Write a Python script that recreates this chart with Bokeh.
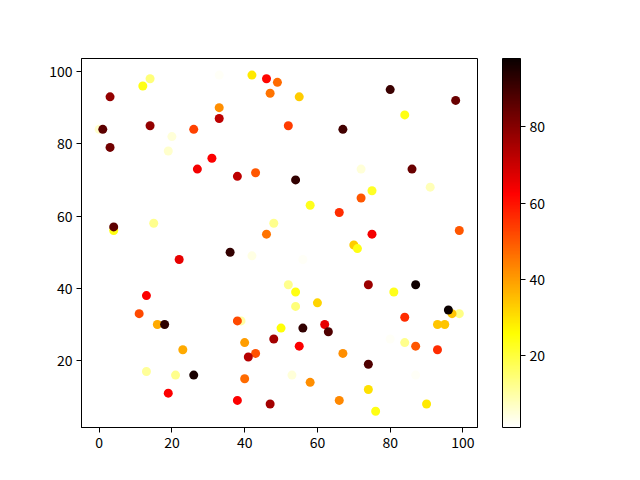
import numpy as np

from bokeh.plotting import figure
from bokeh.models import (ColumnDataSource, LinearColorMapper, ColorBar,
                          FixedTicker, Range1d)
from bokeh.transform import transform
from bokeh.embed import file_html
from bokeh.resources import INLINE

# scatter points
xs = [14, 12, 3, 33, 42, 46, 49, 47, 33, 33, 0, 1, 14, 26, 20, 3, 19, 31,
      27, 35, 38, 43, 4, 4, 15, 48, 46, 55, 80, 98, 84, 52, 67, 72, 86, 54,
      91, 75, 72, 58, 66, 75, 99, 36, 42, 22, 13, 11, 16, 18, 39, 38, 50,
      48, 23, 40, 43, 41, 13, 21, 26, 40, 19, 38, 47, 70, 71, 56, 52, 54,
      54, 60, 74, 81, 87, 99, 97, 96, 93, 95, 84, 56, 62, 63, 55, 80, 84,
      87, 93, 67, 74, 53, 58, 87, 74, 66, 90, 76]
ys = [98, 96, 93, 99, 99, 98, 97, 94, 90, 87, 84, 84, 85, 84, 82, 79, 78,
      76, 73, 71, 71, 72, 56, 57, 58, 58, 55, 93, 95, 92, 88, 85, 84, 73,
      73, 70, 68, 67, 65, 63, 61, 55, 56, 50, 49, 48, 38, 33, 30, 30, 31,
      31, 29, 26, 23, 25, 22, 21, 17, 16, 16, 15, 11, 9, 8, 52, 51, 48, 41,
      39, 35, 36, 41, 39, 41, 33, 33, 34, 30, 30, 32, 29, 30, 28, 24, 26,
      25, 24, 23, 22, 19, 16, 14, 16, 12, 9, 8, 6]
cs = [14, 24, 78, 2, 29, 62, 47, 46, 42, 72, 6, 86, 78, 53, 5, 83, 6, 63,
      64, 1, 72, 50, 24, 86, 12, 12, 46, 33, 91, 84, 24, 54, 90, 5, 84, 92,
      8, 22, 50, 23, 56, 64, 50, 92, 4, 66, 63, 52, 38, 93, 10, 52, 25, 76,
      38, 40, 51, 73, 11, 12, 96, 47, 63, 63, 76, 33, 24, 2, 12, 24, 14, 32,
      77, 23, 97, 13, 34, 98, 34, 34, 56, 92, 66, 88, 63, 2, 12, 50, 56, 42,
      88, 5, 42, 2, 30, 43, 29, 24]

cbar_ticks = [20, 40, 60, 80]
x_ticks = [0, 20, 40, 60, 80, 100]
y_ticks = [20, 40, 60, 80, 100]

# matplotlib "hot", reversed
s = 1 - np.linspace(0, 1, 256)
r = np.interp(s, [0, 0.365079, 1], [0.0416, 1, 1])
g = np.interp(s, [0, 0.365079, 0.746032, 1], [0, 0, 1, 1])
b = np.interp(s, [0, 0.746032, 1], [0, 0, 1])
hot_r = ["#%02x%02x%02x" % (int(round(a * 255)), int(round(bb * 255)), int(round(c * 255)))
         for a, bb, c in zip(r, g, b)]

FONT = "Noto Sans CJK SC"

source = ColumnDataSource(data=dict(x=xs, y=ys, c=cs))
mapper = LinearColorMapper(palette=hot_r, low=min(cs), high=max(cs))

p = figure(frame_width=396, frame_height=369,
           x_range=Range1d(-4.85, 104.0), y_range=Range1d(1.5, 103.6),
           min_border_left=81, min_border_top=58, min_border_bottom=45,
           min_border_right=100,
           output_backend="svg", toolbar_location=None)

p.scatter('x', 'y', size=9, source=source, line_color=None,
          fill_color=transform('c', mapper))

p.xgrid.visible = False
p.ygrid.visible = False
p.outline_line_color = "black"
p.outline_line_width = 1

p.xaxis.ticker = FixedTicker(ticks=x_ticks)
p.yaxis.ticker = FixedTicker(ticks=y_ticks)
for ax in (p.xaxis, p.yaxis):
    ax.axis_line_color = "black"
    ax.major_tick_out = 5
    ax.major_tick_in = 0
    ax.minor_tick_line_color = None
    ax.major_tick_line_color = "black"
    ax.major_label_standoff = 4
    ax.major_label_text_font = FONT
    ax.major_label_text_font_size = "14px"
    ax.major_label_text_color = "black"

cbar = ColorBar(color_mapper=mapper, ticker=FixedTicker(ticks=cbar_ticks),
                width=18, height=369, location=(421, 0),
                padding=0, margin=0,
                bar_line_color="black", bar_line_width=1,
                major_tick_out=5, major_tick_in=0,
                major_tick_line_color="black",
                minor_tick_line_color=None,
                label_standoff=4,
                major_label_text_font=FONT,
                major_label_text_font_size="14px",
                major_label_text_color="black",
                background_fill_color=None)
p.add_layout(cbar, "center")

open("out.html", "w").write(file_html(p, INLINE))
